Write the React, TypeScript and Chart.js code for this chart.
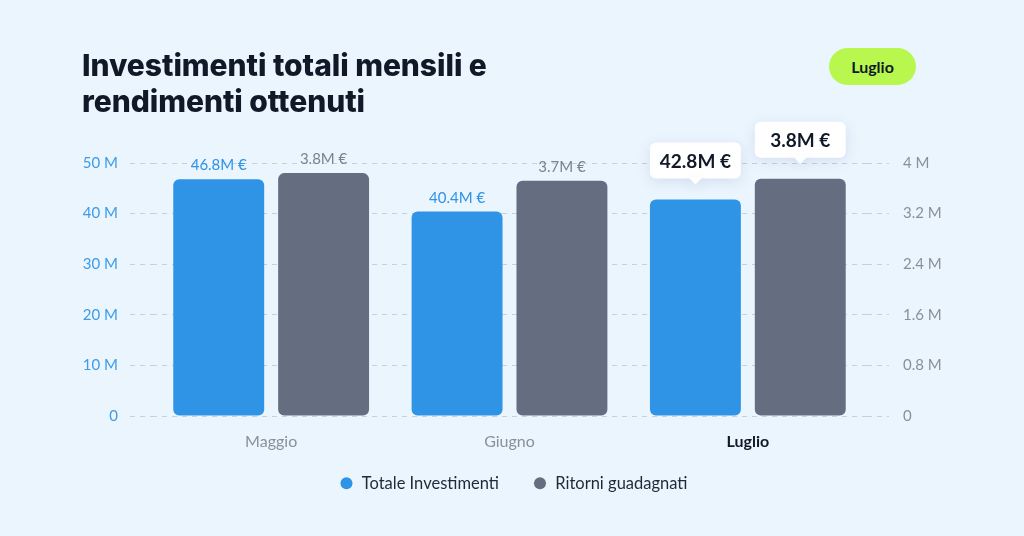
import { useEffect, useRef } from "react"
import { Chart, registerables } from "chart.js"

Chart.register(...registerables)

const months = ["Maggio", "Giugno", "Luglio"]
const investments = [46.8, 40.4, 42.8]
const returns = [3.84, 3.72, 3.75]
const leftTickLabels = ["0", "10 M", "20 M", "30 M", "40 M", "50 M"]
const rightTickLabels = ["0", "0.8 M", "1.6 M", "2.4 M", "3.2 M", "4 M"]
const highlighted = "Luglio"

const FONT = "Lato, 'Noto Sans', sans-serif"
const TITLE_FONT = "Inter, Lato, sans-serif"
const BLUE = "#2f93e6"
const GREY = "#646e80"
const GRID = "#c8d0da"

// labels above the bars, white callout boxes for the selected month
const valueLabels = {
  id: "valueLabels",
  afterDatasetsDraw(chart: Chart) {
    const ctx = chart.ctx
    const labelColors = [BLUE, "#7b828e"]
    chart.data.datasets.forEach((ds, di) => {
      const meta = chart.getDatasetMeta(di)
      meta.data.forEach((bar: any, i: number) => {
        const v = ds.data[i] as number
        const text = `${v.toFixed(1)}M €`
        const { x, y, width } = bar.getProps(["x", "y", "width"], true)
        ctx.save()
        ctx.textAlign = "center"
        if (months[i] === highlighted) {
          const h = 36
          const bottom = y - 21
          const left = x - width / 2
          ctx.shadowColor = "rgba(40, 80, 140, 0.13)"
          ctx.shadowBlur = 14
          ctx.shadowOffsetY = 3
          ctx.fillStyle = "#ffffff"
          ctx.beginPath()
          ctx.roundRect(left, bottom - h, width, h, 6)
          ctx.fill()
          ctx.beginPath()
          ctx.moveTo(x - 7, bottom - 1)
          ctx.lineTo(x, bottom + 6)
          ctx.lineTo(x + 7, bottom - 1)
          ctx.closePath()
          ctx.fill()
          ctx.shadowColor = "transparent"
          ctx.fillStyle = "#111827"
          ctx.font = `bold 19px ${FONT}`
          ctx.textBaseline = "middle"
          ctx.fillText(text, x, bottom - h / 2 + 1)
        } else {
          ctx.fillStyle = labelColors[di]
          ctx.font = `15px ${FONT}`
          ctx.textBaseline = "alphabetic"
          ctx.fillText(text, x, y - 9)
        }
        ctx.restore()
      })
    })
  },
}

// the legend's padding also sets the gap between items; pull it up a bit
const liftLegend = {
  id: "liftLegend",
  afterLayout(chart: any) {
    if (chart.legend) {
      chart.legend.top -= 15
      chart.legend.bottom -= 15
    }
  },
}

function InvestmentChart() {
  const chartRef = useRef<HTMLCanvasElement>(null)
  const chartInstance = useRef<Chart | null>(null)

  useEffect(() => {
    if (!chartRef.current) return
    if (chartInstance.current) chartInstance.current.destroy()

    const ctx = chartRef.current.getContext("2d")
    if (!ctx) return

    chartInstance.current = new Chart(ctx, {
      type: "bar",
      data: {
        labels: months,
        datasets: [
          {
            label: "Totale Investimenti",
            data: investments,
            backgroundColor: BLUE,
            borderRadius: 6,
            borderSkipped: false,
            yAxisID: "y",
            barPercentage: 0.867,
            categoryPercentage: 0.88,
          },
          {
            label: "Ritorni guadagnati",
            data: returns,
            backgroundColor: GREY,
            borderRadius: 6,
            borderSkipped: false,
            yAxisID: "y1",
            barPercentage: 0.867,
            categoryPercentage: 0.88,
          },
        ],
      },
      options: {
        animation: false,
        responsive: true,
        maintainAspectRatio: false,
        layout: { padding: { top: 163, left: 60, right: 57, bottom: 19.5 } },
        scales: {
          x: {
            grid: { display: false, drawTicks: false },
            border: { display: false },
            afterFit: (scale: any) => {
              scale.height = 40
            },
            ticks: {
              padding: 16,
              color: (c: any) => (months[c.index] === highlighted ? "#111827" : "#8a909b"),
              font: (c: any) =>
                months[c.index] === highlighted
                  ? { family: FONT, size: 16, weight: "bold" }
                  : { family: FONT, size: 16 },
            },
          },
          y: {
            position: "left",
            min: 0,
            max: 50,
            afterFit: (scale: any) => {
              scale.width = 92
            },
            grid: {
              color: GRID,
              tickColor: GRID,
              tickLength: 22,
              tickBorderDash: [5, 5],
            },
            border: { display: false, dash: [5, 5] },
            ticks: {
              stepSize: 10,
              padding: 12,
              color: "#3d9be8",
              font: { family: FONT, size: 15 },
              callback: (_v: any, i: number) => leftTickLabels[i],
            },
          },
          y1: {
            position: "right",
            min: 0,
            max: 4,
            afterFit: (scale: any) => {
              scale.width = 100
            },
            grid: {
              drawOnChartArea: false,
              color: GRID,
              tickColor: GRID,
              tickLength: 22,
              tickBorderDash: [5, 5],
            },
            border: { display: false },
            ticks: {
              stepSize: 0.8,
              padding: 14,
              color: "#8a909b",
              font: { family: FONT, size: 15 },
              callback: (_v: any, i: number) => rightTickLabels[i],
            },
          },
        },
        plugins: {
          tooltip: { enabled: false },
          legend: {
            position: "bottom",
            labels: {
              usePointStyle: true,
              pointStyle: "circle",
              boxWidth: 14,
              boxHeight: 8.5,
              padding: 34,
              color: "#1f2937",
              font: { family: FONT, size: 16.5 },
            },
          },
        },
      },
      plugins: [valueLabels, liftLegend],
    })

    return () => {
      if (chartInstance.current) {
        chartInstance.current.destroy()
        chartInstance.current = null
      }
    }
  }, [])

  return (
    <div style={{ position: "absolute", left: 0, top: 0, width: 1024, height: 536 }}>
      <canvas ref={chartRef} />
    </div>
  )
}

export default function App() {
  return (
    <div
      style={{
        position: "fixed",
        left: 0,
        top: 0,
        width: 1024,
        height: 536,
        background: "#ebf5fe",
        overflow: "hidden",
        fontFamily: FONT,
      }}
    >
      <InvestmentChart />
      <div
        style={{
          position: "absolute",
          left: 82,
          top: 47,
          fontFamily: TITLE_FONT,
          fontSize: 30,
          lineHeight: "36px",
          fontWeight: 800,
          letterSpacing: -0.05,
          color: "#111827",
        }}
      >
        Investimenti totali mensili e
        <br />
        rendimenti ottenuti
      </div>
      <div
        style={{
          position: "absolute",
          left: 829,
          top: 48,
          width: 87,
          height: 37,
          borderRadius: 19,
          background: "#b8f84e",
          color: "#111827",
          fontSize: 16,
          fontWeight: 700,
          display: "flex",
          alignItems: "center",
          justifyContent: "center",
        }}
      >
        Luglio
      </div>
    </div>
  )
}
